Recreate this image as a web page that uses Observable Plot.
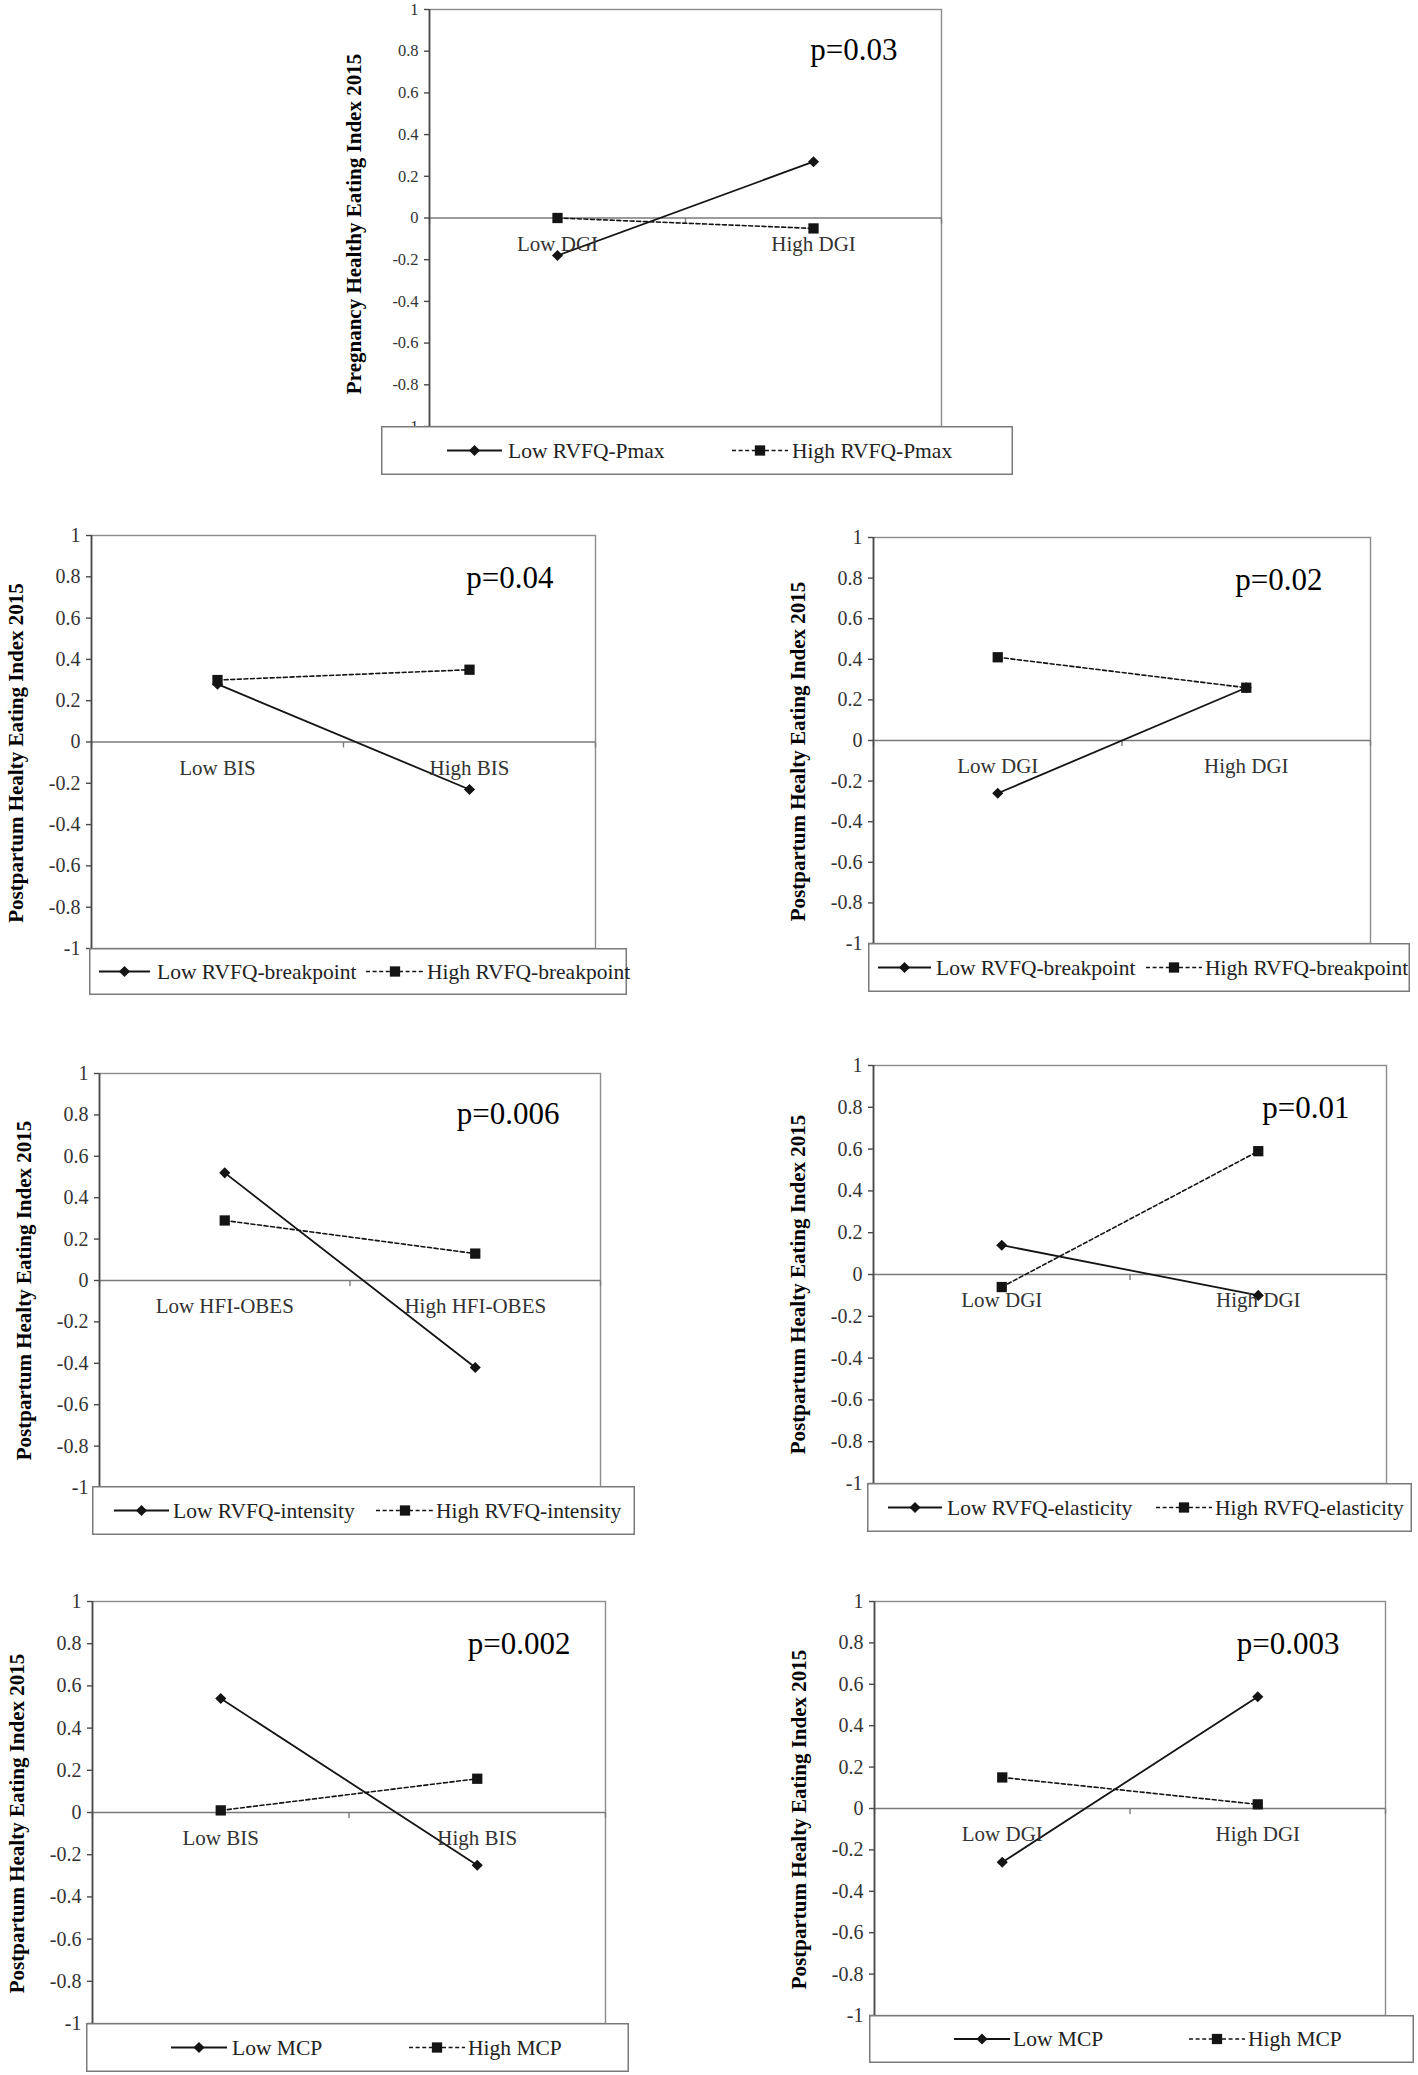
<!DOCTYPE html>
<html><head><meta charset="utf-8">
<script src="https://cdn.jsdelivr.net/npm/d3@7"></script>
<script src="https://cdn.jsdelivr.net/npm/@observablehq/plot@0.6"></script>
<style>
html,body{margin:0;padding:0;background:#fff;}
#page{position:relative;width:1418px;height:2075px;overflow:hidden;font-family:"Liberation Serif","Times New Roman",serif;}
.panel{position:absolute;}
.panel svg{overflow:visible;max-width:none;}
.legend{position:absolute;overflow:visible;}
</style></head><body><div id="page"></div>
<script>
// ---------- data ----------
const yTicks = [-1, -0.8, -0.6, -0.4, -0.2, 0, 0.2, 0.4, 0.6, 0.8, 1];
const pregnancyLabel = "Pregnancy Healthy Eating Index 2015";
const postpartumLabel = "Postpartum Healty Eating Index 2015";

const p1Categories = ["Low DGI", "High DGI"];
const p1Series = ["Low RVFQ-Pmax", "High RVFQ-Pmax"];
const p1Low = [-0.18, 0.27];
const p1High = [0.00, -0.05];
const p1P = "p=0.03";

const p2Categories = ["Low BIS", "High BIS"];
const p2Series = ["Low RVFQ-breakpoint", "High RVFQ-breakpoint"];
const p2Low = [0.28, -0.23];
const p2High = [0.30, 0.35];
const p2P = "p=0.04";

const p3Categories = ["Low DGI", "High DGI"];
const p3Series = ["Low RVFQ-breakpoint", "High RVFQ-breakpoint"];
const p3Low = [-0.26, 0.26];
const p3High = [0.41, 0.26];
const p3P = "p=0.02";

const p4Categories = ["Low HFI-OBES", "High HFI-OBES"];
const p4Series = ["Low RVFQ-intensity", "High RVFQ-intensity"];
const p4Low = [0.52, -0.42];
const p4High = [0.29, 0.13];
const p4P = "p=0.006";

const p5Categories = ["Low DGI", "High DGI"];
const p5Series = ["Low RVFQ-elasticity", "High RVFQ-elasticity"];
const p5Low = [0.14, -0.10];
const p5High = [-0.06, 0.59];
const p5P = "p=0.01";

const p6Categories = ["Low BIS", "High BIS"];
const p6Series = ["Low MCP", "High MCP"];
const p6Low = [0.54, -0.25];
const p6High = [0.01, 0.16];
const p6P = "p=0.002";

const p7Categories = ["Low DGI", "High DGI"];
const p7Series = ["Low MCP", "High MCP"];
const p7Low = [-0.26, 0.54];
const p7High = [0.15, 0.02];
const p7P = "p=0.003";

// ---------- layout (pixels on the page) ----------
const layout = [
  {axisX:429, rightX:941, topY:9, bottomY:426, tickFont:16.5, labelDy:6, pDx:44, pDy:28,
   legend:{x0:381, x1:1013, y0:426, y1:475, items:[{l0:447, l1:502, t:508}, {l0:732, l1:788, t:792}]}},
  {axisX:91, rightX:595, topY:535, bottomY:948, tickFont:20, labelDy:11, pDx:42, pDy:30,
   legend:{x0:89, x1:627, y0:948, y1:995, items:[{l0:99, l1:150, t:157}, {l0:366, l1:424, t:427}]}},
  {axisX:873, rightX:1370, topY:537, bottomY:943, tickFont:20, labelDy:11, pDx:48, pDy:30,
   legend:{x0:868, x1:1410, y0:943, y1:992, items:[{l0:878, l1:931, t:936}, {l0:1146, l1:1202, t:1205}]}},
  {axisX:99, rightX:600, topY:1073, bottomY:1487, tickFont:20, labelDy:10, pDx:41, pDy:28,
   legend:{x0:92, x1:635, y0:1486, y1:1535, items:[{l0:114, l1:169, t:173}, {l0:376, l1:434, t:436}]}},
  {axisX:873, rightX:1386, topY:1065, bottomY:1483, tickFont:20, labelDy:10, pDx:37, pDy:30,
   legend:{x0:867, x1:1412, y0:1483, y1:1532, items:[{l0:888, l1:942, t:947}, {l0:1156, l1:1212, t:1215}]}},
  {axisX:92, rightX:605, topY:1601, bottomY:2023, tickFont:20, labelDy:11, pDx:35, pDy:30,
   legend:{x0:86, x1:629, y0:2023, y1:2072, items:[{l0:171, l1:227, t:232}, {l0:409, l1:465, t:468}]}},
  {axisX:874, rightX:1385, topY:1601, bottomY:2015, tickFont:20, labelDy:11, pDx:46, pDy:30,
   legend:{x0:869, x1:1414, y0:2015, y1:2063, items:[{l0:954, l1:1010, t:1013}, {l0:1189, l1:1245, t:1248}]}}
];

const panels = [
  [p1Categories, p1Series, p1Low, p1High, p1P, pregnancyLabel],
  [p2Categories, p2Series, p2Low, p2High, p2P, postpartumLabel],
  [p3Categories, p3Series, p3Low, p3High, p3P, postpartumLabel],
  [p4Categories, p4Series, p4Low, p4High, p4P, postpartumLabel],
  [p5Categories, p5Series, p5Low, p5High, p5P, postpartumLabel],
  [p6Categories, p6Series, p6Low, p6High, p6P, postpartumLabel],
  [p7Categories, p7Series, p7Low, p7High, p7P, postpartumLabel]
];

// ---------- styles ----------
const FONT = '"Liberation Serif","Times New Roman",serif';
const INK = "#141414";
const DASH = "4,2.6";
const DIAMOND_R = 5, SQUARE_R = 5.8;
const tickDown = {draw(ctx) { ctx.moveTo(0, 0); ctx.lineTo(0, 5.5); }};
const fmt = d => String(Math.round(d * 10) / 10);

const page = document.getElementById("page");

function makePanel([cats, series, low, high, pText, yLabel], L) {
  const left = Math.max(0, L.axisX - 110);
  const top = Math.max(0, L.topY - 12);
  const width = L.rightX - left + 12;
  const height = L.bottomY - top + 12;
  const lowData = cats.map((c, i) => ({pos: i + 0.5, value: low[i], cat: c}));
  const highData = cats.map((c, i) => ({pos: i + 0.5, value: high[i], cat: c}));
  const bounds = d3.range(cats.length + 1);

  const plot = Plot.plot({
    width, height,
    marginLeft: L.axisX - left,
    marginRight: left + width - L.rightX,
    marginTop: L.topY - top,
    marginBottom: top + height - L.bottomY,
    x: {domain: [0, cats.length], axis: null},
    y: {domain: [-1, 1], axis: null},
    style: {fontFamily: FONT, background: "transparent", overflow: "visible"},
    marks: [
      Plot.frame({stroke: "#8c8c8c", strokeWidth: 1.4}),
      Plot.ruleY([0], {stroke: "#7a7a7a", strokeWidth: 1.4}),
      Plot.dot(bounds, {x: d => d, y: 0, symbol: tickDown, fill: "none", stroke: "#7a7a7a", strokeWidth: 1.4, r: 5}),
      Plot.ruleX([0], {stroke: "#4a4a4a", strokeWidth: 1.7}),
      Plot.axisY({ticks: yTicks, tickSize: 5, tickPadding: 6, tickFormat: fmt, label: null,
                  fontSize: L.tickFont, fill: "#333", stroke: "#4a4a4a", strokeWidth: 1.4}),
      Plot.line(lowData, {x: "pos", y: "value", stroke: INK, strokeWidth: 1.8}),
      Plot.line(highData, {x: "pos", y: "value", stroke: INK, strokeWidth: 1.6, strokeDasharray: DASH}),
      Plot.dot(lowData, {x: "pos", y: "value", symbol: "diamond2", fill: INK, r: DIAMOND_R}),
      Plot.dot(highData, {x: "pos", y: "value", symbol: "square", fill: INK, r: SQUARE_R}),
      Plot.text(lowData, {x: "pos", y: 0, text: "cat", dy: 26, lineAnchor: "middle", fontSize: 21, fill: "#333"}),
      Plot.text([pText], {frameAnchor: "top-right", text: d => d, textAnchor: "end", lineAnchor: "top",
                          dx: -L.pDx, dy: L.pDy, fontSize: 31, fill: "#000"}),
      Plot.text([yLabel], {frameAnchor: "left", text: d => d, rotate: -90, textAnchor: "middle", lineAnchor: "middle",
                           dx: -75, dy: L.labelDy, fontSize: 21, fontWeight: "bold", fill: "#000"})
    ]
  });
  const wrap = document.createElement("div");
  wrap.className = "panel";
  wrap.style.left = left + "px";
  wrap.style.top = top + "px";
  wrap.appendChild(plot);
  page.appendChild(wrap);

  // legend box (drawn over the bottom edge of the plot frame)
  const G = L.legend;
  const w = G.x1 - G.x0, h = G.y1 - G.y0;
  const svg = d3.create("svg")
    .attr("class", "legend")
    .attr("width", w).attr("height", h)
    .style("left", G.x0 + "px").style("top", G.y0 + "px");
  svg.append("rect").attr("x", 0.75).attr("y", 0.75).attr("width", w - 1.5).attr("height", h - 1.5)
    .attr("fill", "#fff").attr("stroke", "#7a7a7a").attr("stroke-width", 1.5);
  const symbols = [d3.symbol(d3.symbolDiamond2, DIAMOND_R * DIAMOND_R * Math.PI),
                   d3.symbol(d3.symbolSquare, SQUARE_R * SQUARE_R * Math.PI)];
  const dashes = [null, DASH];
  G.items.forEach((it, k) => {
    const cy = h / 2;
    const g = svg.append("g");
    g.append("line").attr("x1", it.l0 - G.x0).attr("x2", it.l1 - G.x0).attr("y1", cy).attr("y2", cy)
      .attr("stroke", INK).attr("stroke-width", k === 0 ? 1.8 : 1.6).attr("stroke-dasharray", dashes[k]);
    g.append("path").attr("d", symbols[k]())
      .attr("transform", `translate(${(it.l0 + it.l1) / 2 - G.x0},${cy})`).attr("fill", INK);
    g.append("text").attr("x", it.t - G.x0).attr("y", cy).attr("dy", "0.34em")
      .attr("font-family", FONT).attr("font-size", 21.5).attr("fill", "#222").text(series[k]);
  });
  page.appendChild(svg.node());
}

panels.forEach((p, i) => makePanel(p, layout[i]));
</script>
</body></html>
